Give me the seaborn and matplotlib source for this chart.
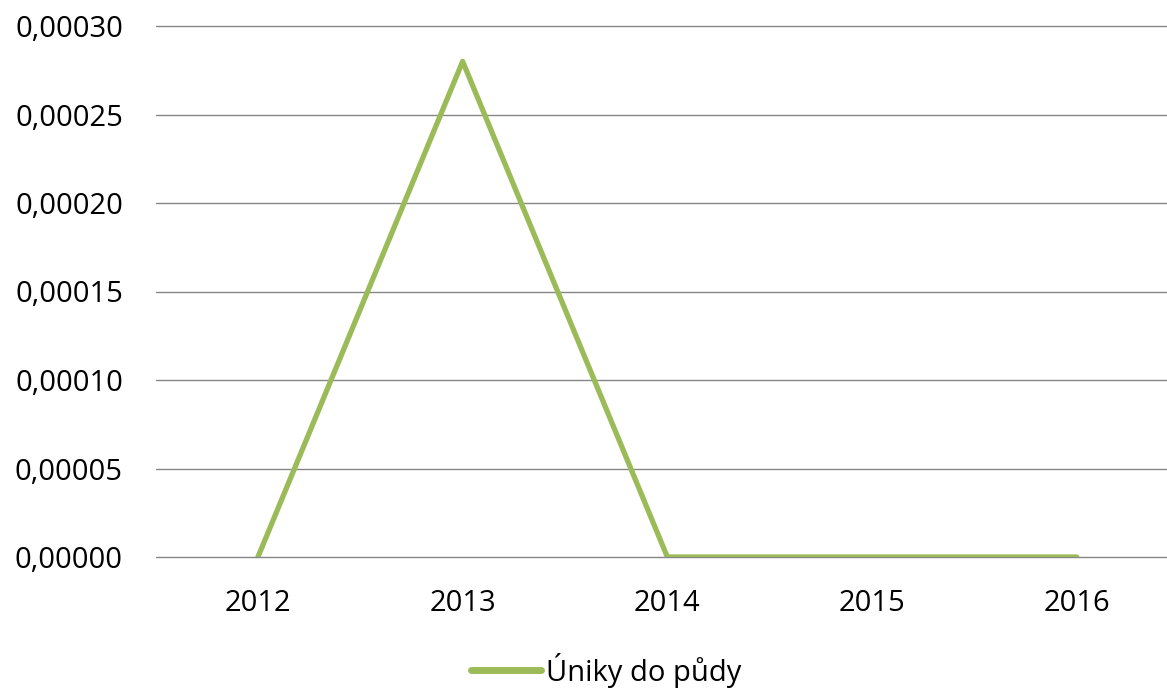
import numpy as np
import pandas as pd
import matplotlib
matplotlib.use("Agg")
import matplotlib.pyplot as plt
from matplotlib.ticker import FuncFormatter, MultipleLocator
import seaborn as sns

years = ["2012", "2013", "2014", "2015", "2016"]
values = [0.0, 0.00028, 0.0, 0.0, 0.0]
series_name = "Úniky do půdy"

sns.set_theme(style="white")
plt.rcParams["font.family"] = ["Open Sans", "DejaVu Sans"]

df = pd.DataFrame({"year": years, "value": values, "series": series_name})

fig = plt.figure(figsize=(11.67, 6.89), dpi=100)
ax = fig.add_axes([155.6 / 1167, 132 / 689, 1023.5 / 1167, 531 / 689])

ax.yaxis.grid(True, color="#868686", linewidth=1.0)
ax.set_axisbelow(True)
sns.lineplot(data=df, x="year", y="value", hue="series", palette=["#9BBB59"],
             linewidth=3.8, ax=ax, sort=False, legend=True)

ax.set_xlim(-0.5, 4.5)
ax.set_ylim(0, 0.0003)
ax.yaxis.set_major_locator(MultipleLocator(0.00005))
ax.yaxis.set_major_formatter(FuncFormatter(lambda v, p: f"{v:.5f}".replace(".", ",")))
for gl in ax.get_ygridlines():
    gl.set_clip_on(False)
for s in ax.spines.values():
    s.set_visible(False)
ax.tick_params(axis="both", length=0, labelsize=21, colors="#000000")
ax.tick_params(axis="y", pad=23.5)
ax.tick_params(axis="x", pad=23)
ax.set_xlabel("")
ax.set_ylabel("")

handles, labels = ax.get_legend_handles_labels()
leg = ax.legend(handles, labels, loc="center", bbox_to_anchor=((606 - 155.6) / 1023.5, -113 / 531),
                frameon=False, fontsize=21, handlelength=2.4, handletextpad=0.17)
for line in leg.get_lines():
    line.set_linewidth(5)
for t in leg.get_texts():
    t.set_color("#000000")

fig.savefig("out.png", dpi=100)
